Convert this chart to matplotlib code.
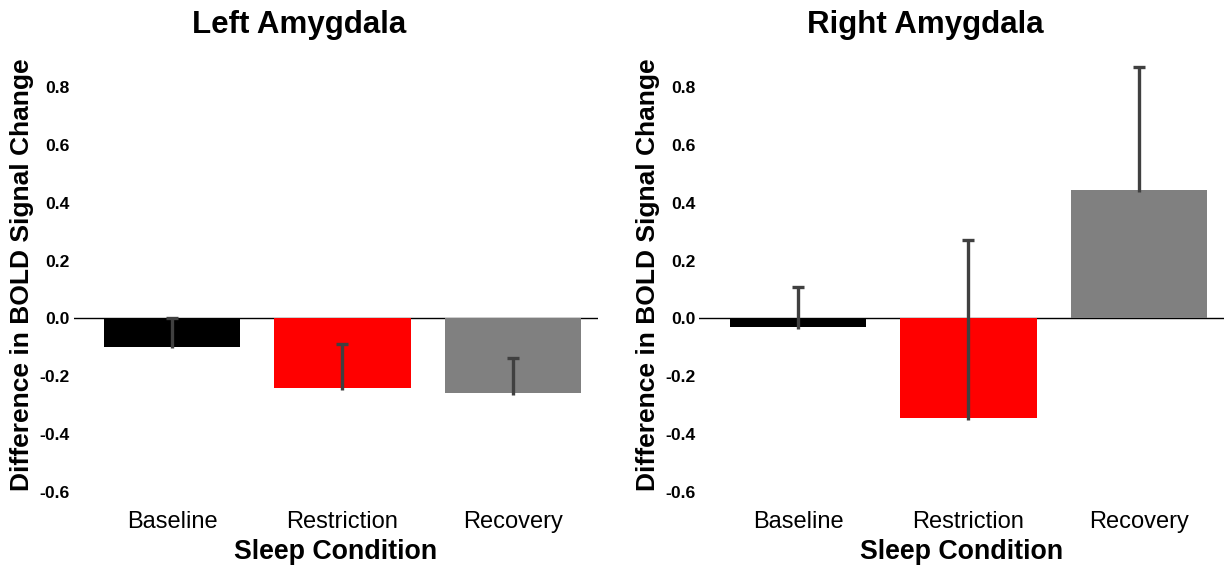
import matplotlib.pyplot as plt
import numpy as np

plt.rcParams["font.family"] = ["Liberation Sans", "DejaVu Sans"]

# Data
conditions = ["Baseline", "Restriction", "Recovery"]
bar_colors = ["#000000", "#ff0000", "#808080"]

left_means = [-0.097, -0.242, -0.258]
left_err = [0.097, 0.152, 0.120]

right_means = [-0.031, -0.345, 0.443]
right_err = [0.139, 0.618, 0.425]

panels = [
    ("Left Amygdala", left_means, left_err),
    ("Right Amygdala", right_means, right_err),
]

fig = plt.figure(figsize=(12.25, 5.73), dpi=100)
ax_lefts = [0.060, 0.571]

for left, (title, means, errs) in zip(ax_lefts, panels):
    ax = fig.add_axes([left, 0.1414, 0.428, 0.757])
    x = np.arange(len(conditions))
    ax.bar(x, means, width=0.8, color=bar_colors, zorder=2)
    # one-sided (upward) error bars, line runs a touch below the bar end
    _, caps, _ = ax.errorbar(
        x, means, yerr=[np.full(len(errs), 0.006), errs], fmt="none",
        ecolor="#404040", elinewidth=2.4, capsize=4, capthick=2.4,
        zorder=3, clip_on=False,
    )
    caps[0].set_visible(False)
    ax.axhline(0, color="black", lw=1, zorder=1)

    ax.set_xlim(-0.58, 2.5)
    ax.set_ylim(-0.6, 0.9)
    ticks = np.arange(-0.6, 0.81, 0.2)
    ax.set_yticks(ticks)
    ax.set_yticklabels([f"{v:.1f}" for v in ticks], fontweight="bold", fontsize=12.6)
    ax.set_xticks(x)
    ax.set_xticklabels(conditions, fontsize=17)
    ax.tick_params(axis="both", length=0)
    ax.tick_params(axis="x", pad=14)
    ax.tick_params(axis="y", pad=3)
    for s in ax.spines.values():
        s.set_visible(False)

    ax.set_xlabel("Sleep Condition", fontsize=19.3, fontweight="bold", labelpad=4)
    ax.set_ylabel("Difference in BOLD Signal Change", fontsize=19,
                  fontweight="bold", labelpad=4)
    # title sits over the whole panel (label + axes), not just the axes
    ax.set_title(title, fontsize=22.5, fontweight="bold", pad=18, x=0.43)

fig.savefig("out.png", dpi=100)
